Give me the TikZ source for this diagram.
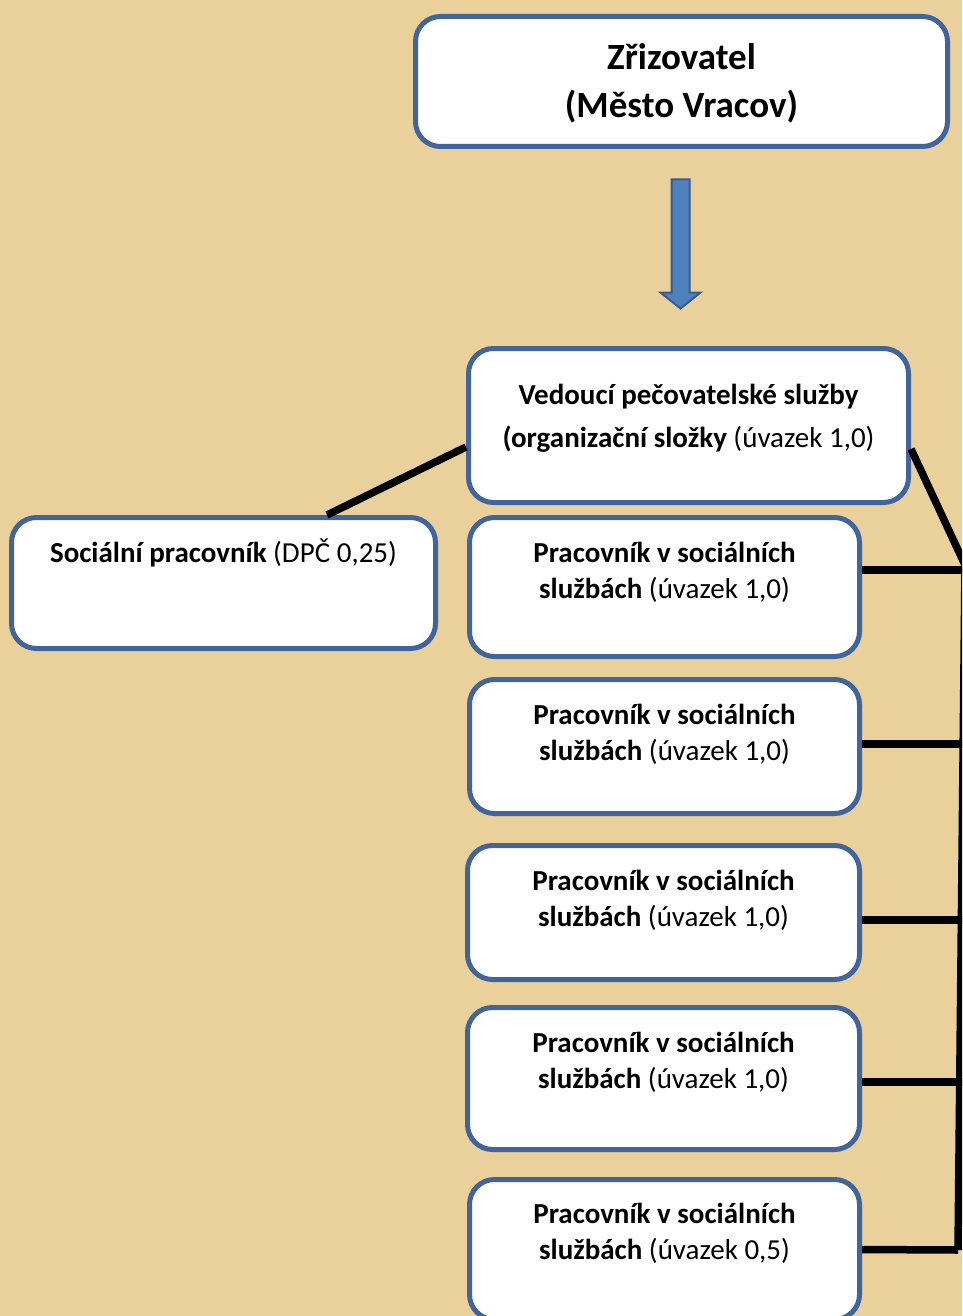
\documentclass[tikz,border=0pt]{standalone}
\usepackage{fontspec}
\setmainfont{Carlito}
\usetikzlibrary{positioning}
\definecolor{papyrus}{RGB}{234,208,155}
\definecolor{boxblue}{RGB}{65,101,154}
\definecolor{arrowfill}{RGB}{79,129,189}
\definecolor{arrowline}{RGB}{56,93,138}
\begin{document}
\begin{tikzpicture}[x=1pt,y=-1pt,
        orgbox/.style={draw=boxblue,line width=5pt,fill=white,rounded corners=25pt,inner sep=0pt},
        boxtext/.style={align=center,inner sep=0pt,anchor=base,font=\fontsize{29}{36}\selectfont},
        titletext/.style={align=center,inner sep=0pt,anchor=base,font=\fontsize{37}{48}\selectfont\bfseries},
        link/.style={line width=7.5pt},
        blockarrow/.style={fill=arrowfill,draw=arrowline,line width=2pt}]
    \useasboundingbox[fill=papyrus] (0,0) rectangle (962,1316);
    \clip (0,0) rectangle (962,1316);

    \node[orgbox,minimum width=532pt,minimum height=130pt] (zriz) at (681.5,81.5) {};
    \node[titletext] (zrizt) at ([yshift=-104pt]zriz.north) {Zřizovatel\\(Město Vracov)};
    \draw[blockarrow] ([xshift=-10pt,yshift=-30.5pt]zriz.south) -- ++(18,0) -- ++(0,113) -- ++(11,0)
        -- ++(-20,16) -- ++(-20,-16) -- ++(11,0) -- cycle;

    \node[orgbox,minimum width=440pt,minimum height=154pt] (ved) at (688.5,425.5) {};
    \node[boxtext,font=\fontsize{29}{43}\selectfont] (vedt) at ([yshift=-101pt]ved.north)
        {\textbf{Vedoucí pečovatelské služby}\\\textbf{(organizační složky} (úvazek 1,0)};

    \node[orgbox,minimum width=424pt,minimum height=131pt] (soc) at (223.5,583) {};
    \node[boxtext] (soct) at ([yshift=-47.5pt]soc.north) {\textbf{Sociální pracovník} (DPČ 0,25)};

    \node[orgbox,minimum width=390pt,minimum height=139pt] (w1) at (664.5,587) {};
    \node[boxtext] (w1t) at ([yshift=-83.5pt]w1.north) {\textbf{Pracovník v sociálních}\\\textbf{službách} (úvazek 1,0)};
    \node[orgbox,minimum width=390pt,minimum height=134pt] (w2) at (664.5,746.5) {};
    \node[boxtext] (w2t) at ([yshift=-83.5pt]w2.north) {\textbf{Pracovník v sociálních}\\\textbf{službách} (úvazek 1,0)};
    \node[orgbox,minimum width=392pt,minimum height=134pt] (w3) at (663.5,912.5) {};
    \node[boxtext] (w3t) at ([yshift=-83.5pt]w3.north) {\textbf{Pracovník v sociálních}\\\textbf{službách} (úvazek 1,0)};
    \node[orgbox,minimum width=392pt,minimum height=142pt] (w4) at (663.5,1078.5) {};
    \node[boxtext] (w4t) at ([yshift=-83.5pt]w4.north) {\textbf{Pracovník v sociálních}\\\textbf{službách} (úvazek 1,0)};
    \node[orgbox,minimum width=390pt,minimum height=140pt] (w5) at (664.5,1249.5) {};
    \node[boxtext] (w5t) at ([yshift=-82.5pt]w5.north) {\textbf{Pracovník v sociálních}\\\textbf{službách} (úvazek 0,5)};

    \coordinate (railtop) at (965,565);
    \coordinate (railbot) at (958,1250);
    \draw[link] ([yshift=-21.5pt]ved.west) -- ([xshift=103.5pt]soc.north);
    \draw[link] ([yshift=-23.5pt]ved.east) -- (railtop) -- (railbot);
    \draw[link] ([yshift=17pt]w1.east) -- ++(105,0);
    \draw[link] ([yshift=2.5pt]w2.east) -- ++(105,0);
    \draw[link] ([yshift=-7.5pt]w3.east) -- ++(105,0);
    \draw[link] ([yshift=-3.5pt]w4.east) -- ++(105,0);
    \draw[link] (w5.east) -- (railbot);
\end{tikzpicture}
\end{document}
